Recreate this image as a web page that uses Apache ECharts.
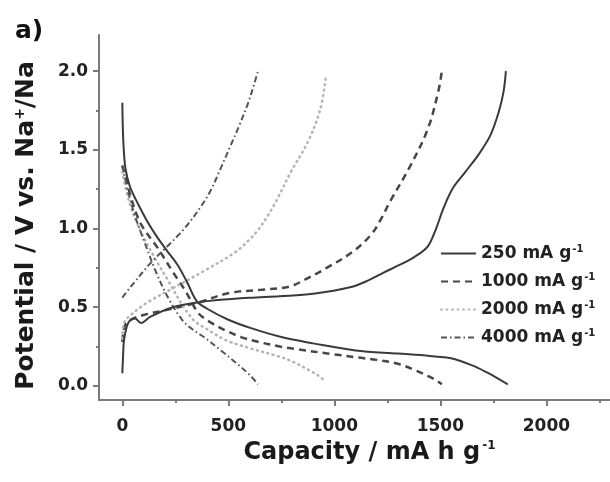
<!DOCTYPE html>
<html>
<head>
<meta charset="utf-8">
<script src="https://cdn.jsdelivr.net/npm/echarts@6/dist/echarts.min.js"></script>
<style>html,body{margin:0;padding:0;background:#fff}#c{width:610px;height:482px}</style>
</head>
<body>
<div id="c"></div>
<script>
// ---- data (capacity mA h g^-1, potential V) ----
const rates = [250, 1000, 2000, 4000];
const xTicks = [0, 500, 1000, 1500, 2000];
const xMinorTicks = [250, 750, 1250, 1750, 2250];
const yTicks = [0, 0.5, 1.0, 1.5, 2.0];
const yMinorTicks = [0.25, 0.75, 1.25, 1.75];

const cap250D = [0,2,6,15,35,65,88,120,162,210,260,305,350,400,500,600,750,900,1100,1300,1450,1550,1650,1720,1780,1818];
const v250D   = [1.80,1.66,1.52,1.38,1.27,1.18,1.12,1.04,0.95,0.86,0.77,0.66,0.54,0.49,0.42,0.37,0.31,0.27,0.225,0.205,0.19,0.175,0.13,0.085,0.04,0.01];
const cap250C = [0,4,8,28,59,88,133,238,356,450,600,742,900,1084,1160,1232,1310,1378,1440,1480,1512,1556,1618,1680,1735,1775,1798,1809];
const v250C   = [0.08,0.20,0.29,0.40,0.43,0.40,0.44,0.50,0.53,0.545,0.56,0.57,0.585,0.63,0.67,0.72,0.77,0.82,0.885,1.00,1.12,1.25,1.36,1.47,1.59,1.74,1.87,2.0];

const cap1000D = [0,20,40,70,100,165,240,290,320,360,420,490,560,640,742,810,1000,1110,1200,1300,1380,1445,1480,1507];
const v1000D   = [1.40,1.30,1.20,1.08,1.00,0.88,0.72,0.62,0.55,0.46,0.40,0.35,0.31,0.28,0.25,0.235,0.20,0.18,0.165,0.14,0.10,0.06,0.035,0.01];
const cap1000C = [0,5,15,40,100,200,356,505,650,786,861,964,1084,1173,1220,1262,1351,1440,1490,1507];
const v1000C   = [0.28,0.34,0.39,0.42,0.45,0.48,0.53,0.59,0.61,0.63,0.675,0.75,0.85,0.96,1.06,1.17,1.38,1.63,1.87,2.0];

const cap2000D = [0,30,80,150,220,280,311,342,400,489,600,742,809,880,930,955];
const v2000D   = [1.36,1.18,1.00,0.82,0.66,0.52,0.46,0.41,0.36,0.29,0.24,0.185,0.15,0.10,0.06,0.03];
const cap2000C = [0,8,40,118,238,385,533,600,640,690,728,795,875,934,960];
const v2000C   = [0.30,0.40,0.45,0.53,0.62,0.73,0.85,0.93,0.99,1.09,1.18,1.36,1.55,1.76,1.97];

const cap4000D = [0,30,60,100,160,220,282,330,385,460,533,600,640];
const v4000D   = [1.40,1.22,1.08,0.93,0.72,0.55,0.42,0.36,0.31,0.23,0.15,0.07,0.01];
const cap4000C = [0,40,133,207,266,311,371,416,460,505,550,594,620,640];
const v4000C   = [0.56,0.63,0.78,0.88,0.96,1.03,1.14,1.24,1.37,1.51,1.65,1.80,1.91,2.0];

// ---- build ----
const zip = (a, b) => a.map((x, i) => [x, b[i]]);
const curves = {
  250:  [zip(cap250D, v250D),  zip(cap250C, v250C)],
  1000: [zip(cap1000D, v1000D), zip(cap1000C, v1000C)],
  2000: [zip(cap2000D, v2000D), zip(cap2000C, v2000C)],
  4000: [zip(cap4000D, v4000D), zip(cap4000C, v4000C)]
};
const styles = {
  250:  {color: '#3a3a3a', width: 2, type: 'solid'},
  1000: {color: '#474747', width: 2.5, type: [7, 5]},
  2000: {color: '#b4b4b4', width: 2.5, type: [1, 4.5], cap: 'round'},
  4000: {color: '#555555', width: 2, type: [6, 3, 1.5, 3]}
};
const FONT = 'DejaVu Sans';
const nameOf = r => r + ' mA g-1';
const series = [];
rates.forEach(r => {
  curves[r].forEach(d => {
    series.push({
      name: nameOf(r), type: 'line', data: d, symbol: 'none', legendIcon: 'none',
      smooth: 0.35, lineStyle: styles[r], itemStyle: {color: styles[r].color},
      xAxisIndex: 0, yAxisIndex: 0, z: r === 250 ? 5 : 3
    });
  });
});

const axisColor = '#7a7a7a';
const labelStyle = {fontFamily: FONT, fontWeight: 'bold', fontSize: 17, color: '#222'};
const chart = echarts.init(document.getElementById('c'), null, {renderer: 'canvas'});
chart.setOption({
  animation: false,
  backgroundColor: '#fff',
  title: {text: 'a)', left: 10, top: 14, textStyle: {fontFamily: FONT, fontWeight: 'bold', fontSize: 25, color: '#111'}},
  grid: {left: 99, right: -31, top: 35, bottom: 82, containLabel: false},
  legend: {
    orient: 'vertical', left: 440, top: 244, padding: 0, itemWidth: 35, itemHeight: 14, itemGap: 9,
    data: rates.map(nameOf),
    itemStyle: {color: 'transparent', borderWidth: 0, opacity: 0},
    formatter: n => '{t|' + n.replace(' g-1', ' g') + '}{s|-1}',
    textStyle: {
      rich: {
        t: {fontFamily: FONT, fontWeight: 'bold', fontSize: 17, color: '#222', lineHeight: 19},
        s: {fontFamily: FONT, fontWeight: 'bold', fontSize: 10, color: '#222', lineHeight: 19, padding: [0, 0, 9, 1]}
      }
    }
  },
  xAxis: [{
    type: 'value', min: -110, max: 2300, position: 'bottom',
    axisLine: {show: true, onZero: false, lineStyle: {color: axisColor, width: 2}},
    axisTick: {show: true, length: 6, customValues: xTicks, lineStyle: {color: axisColor, width: 2}},
    axisLabel: Object.assign({customValues: xTicks, margin: 18, formatter: v => String(v)}, labelStyle),
    splitLine: {show: false},
    name: 'Capacity / mA h g{s|-1}', nameLocation: 'middle', nameGap: 32,
    nameTextStyle: {fontFamily: FONT, fontWeight: 'bold', fontSize: 24, color: '#1a1a1a', padding: [0, 0, 0, 30],
      rich: {s: {fontFamily: FONT, fontWeight: 'bold', fontSize: 12, color: '#1a1a1a', padding: [0, 0, 14, 2]}}}
  }, {
    type: 'value', min: -110, max: 2300, position: 'bottom',
    axisLine: {show: false, onZero: false},
    axisTick: {show: true, length: 3, customValues: xMinorTicks, lineStyle: {color: axisColor, width: 2}},
    axisLabel: {show: false}, splitLine: {show: false}
  }],
  yAxis: [{
    type: 'value', min: -0.09, max: 2.23, position: 'left',
    axisLine: {show: true, onZero: false, lineStyle: {color: axisColor, width: 2}},
    axisTick: {show: true, length: 6, customValues: yTicks, lineStyle: {color: axisColor, width: 2}},
    axisLabel: Object.assign({customValues: yTicks, margin: 11, formatter: v => v.toFixed(1)}, labelStyle),
    splitLine: {show: false},
    name: 'Potential / V vs. Na{s|+}/Na', nameLocation: 'middle', nameGap: 60,
    nameTextStyle: {fontFamily: FONT, fontWeight: 'bold', fontSize: 25, color: '#1a1a1a', padding: [0, 16, 0, 0],
      rich: {s: {fontFamily: FONT, fontWeight: 'bold', fontSize: 14, color: '#1a1a1a', padding: [0, 0, 12, 0]}}}
  }, {
    type: 'value', min: -0.09, max: 2.23, position: 'left',
    axisLine: {show: false, onZero: false},
    axisTick: {show: true, length: 3, customValues: yMinorTicks, lineStyle: {color: axisColor, width: 2}},
    axisLabel: {show: false}, splitLine: {show: false}
  }],
  series: series
});
</script>
</body>
</html>
